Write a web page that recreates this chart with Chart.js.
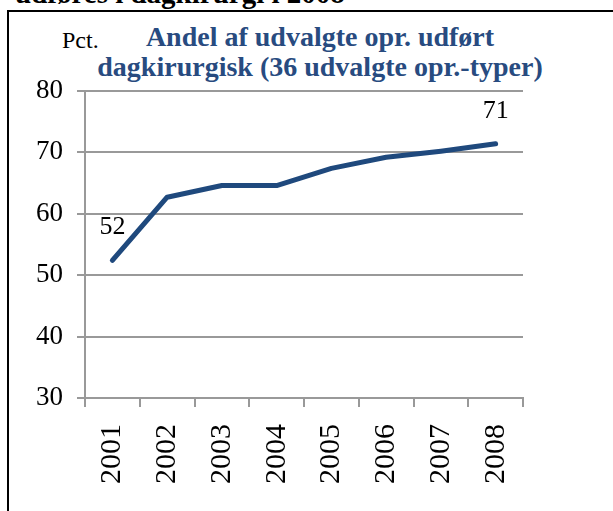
<!DOCTYPE html>
<html>
<head>
<meta charset="utf-8">
<script src="https://cdn.jsdelivr.net/npm/chart.js@4.4.1/dist/chart.umd.min.js"></script>
<style>
  body { margin: 0; background: #fff; }
  #wrap { position: relative; width: 613px; height: 511px; overflow: hidden; }
  .serif { font-family: "Liberation Serif", serif; }
  #frame { position: absolute; left: 7px; top: 10px; width: 620px; height: 520px; border-top: 2px solid #000; border-left: 2px solid #000; }
  #header { position: absolute; left: 15px; top: -21px; font-size: 29px; font-weight: bold; line-height: 29px; white-space: nowrap; }
  #title { position: absolute; left: 70px; width: 500px; top: 22px; text-align: center; color: #284B80; font-weight: bold; font-size: 28px; line-height: 30px; }
  #unit { position: absolute; left: 62px; top: 27px; font-size: 24px; }
  canvas { position: absolute; left: 0; top: 0; }
</style>
</head>
<body>
<div id="wrap">
  <div id="header" class="serif">udføres i dagkirurgi i 2008</div>
  <div id="frame"></div>
  <div id="title" class="serif">Andel af udvalgte opr. udført<br>dagkirurgisk (36 udvalgte opr.-typer)</div>
  <div id="unit" class="serif">Pct.</div>
  <canvas id="chart" width="613" height="511"></canvas>
</div>
<script>
// Aar og andel (pct.)
const years = ["2001", "2002", "2003", "2004", "2005", "2006", "2007", "2008"];
const shares = [52.4, 62.7, 64.6, 64.6, 67.4, 69.2, 70.2, 71.4];
const labelledPoints = [0, 7]; // kun foerste og sidste punkt har tal
const yTicks = [30, 40, 50, 60, 70, 80];

const gridColor = "#999999";
const lineColor = "#1F497D";
const serif = "'Liberation Serif', serif";

// Tal over foerste og sidste punkt
const pointLabels = {
    id: "pointLabels",
    afterDatasetsDraw(chart) {
        const ctx = chart.ctx;
        const meta = chart.getDatasetMeta(0);
        ctx.save();
        ctx.font = "26px " + serif;
        ctx.fillStyle = "#000";
        ctx.textAlign = "center";
        ctx.textBaseline = "middle";
        labelledPoints.forEach(i => {
            const pt = meta.data[i];
            ctx.fillText(Math.round(shares[i]), pt.x, pt.y - 33);
        });
        ctx.restore();
    }
};

new Chart(document.getElementById("chart"), {
    type: "line",
    data: {
        labels: years,
        datasets: [{
            data: shares,
            borderColor: lineColor,
            borderWidth: 5,
            borderCapStyle: "round",
            borderJoinStyle: "round",
            pointRadius: 0,
            tension: 0
        }]
    },
    options: {
        responsive: false,
        animation: false,
        layout: { padding: { left: 0, right: 90, top: 91, bottom: 0 } },
        plugins: { legend: { display: false }, tooltip: { enabled: false } },
        scales: {
            x: {
                offset: true,
                grid: { offset: true, drawOnChartArea: false, color: gridColor, lineWidth: 2, tickLength: 9 },
                border: { color: gridColor, width: 2 },
                ticks: { color: "#000", font: { family: serif, size: 30 }, minRotation: 90, maxRotation: 90, padding: 17 },
                afterFit(scale) { scale.height = 113; }
            },
            y: {
                min: 30,
                max: 80,
                afterBuildTicks(scale) { scale.ticks = yTicks.map(v => ({ value: v })); },
                grid: { color: gridColor, lineWidth: 2, tickLength: 8 },
                border: { color: gridColor, width: 2 },
                ticks: { color: "#000", font: { family: serif, size: 27 }, padding: 14 },
                afterFit(scale) { scale.width = 85; }
            }
        }
    },
    plugins: [pointLabels]
});
</script>
</body>
</html>
